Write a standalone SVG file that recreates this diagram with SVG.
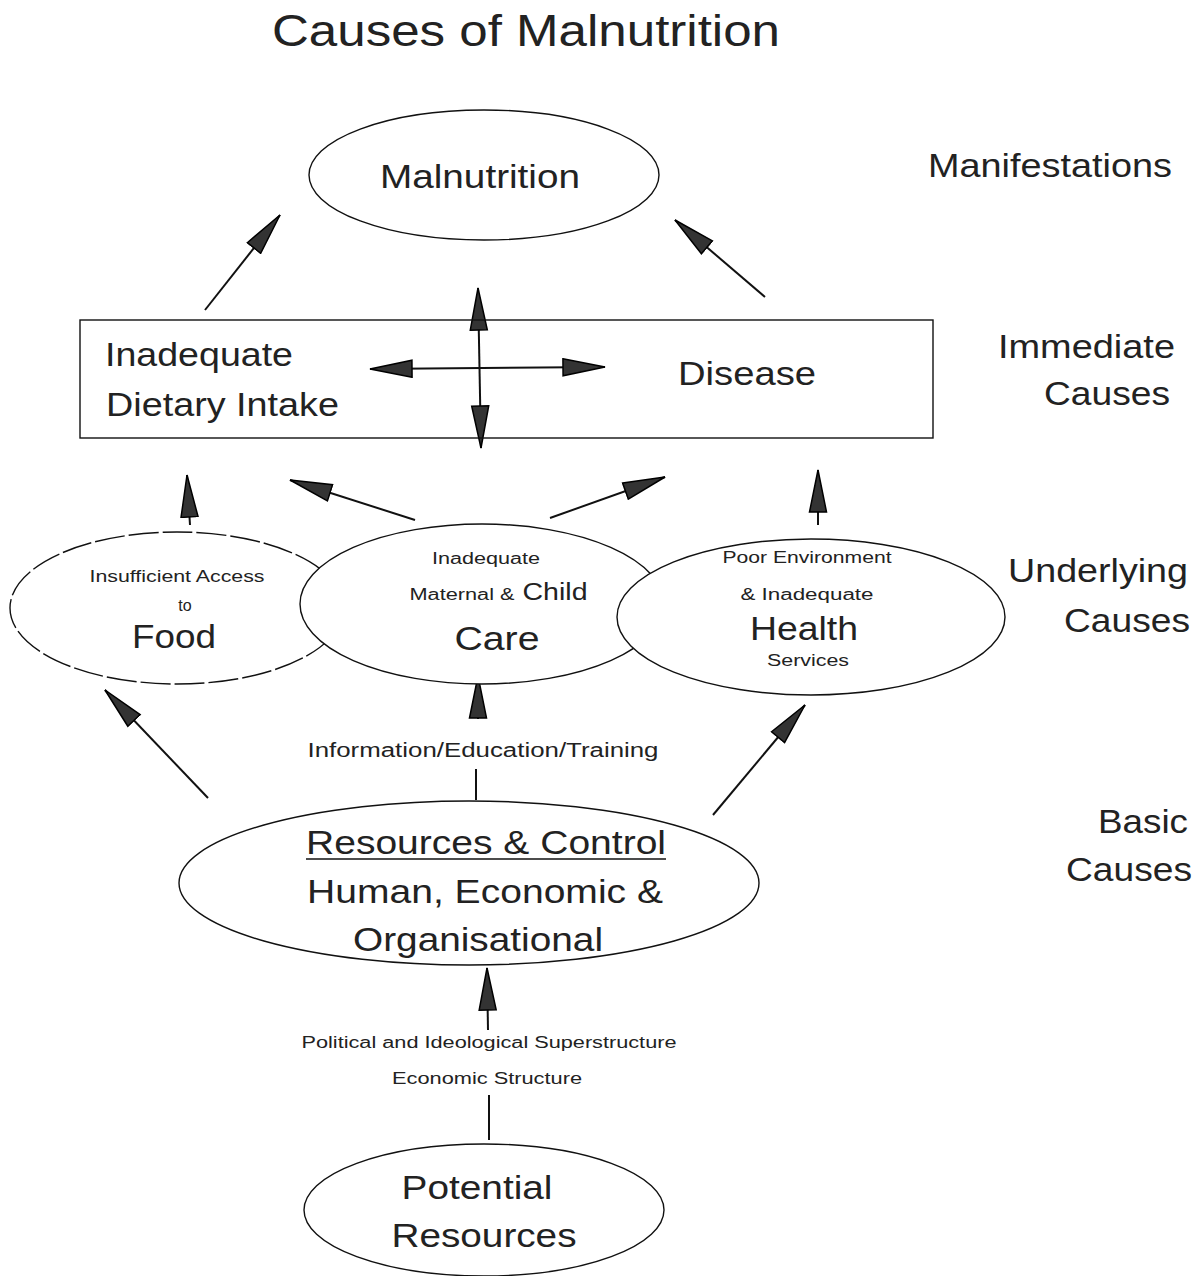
<svg xmlns="http://www.w3.org/2000/svg" width="1204" height="1276" viewBox="0 0 1204 1276">
<style>
text{font-family:"Liberation Sans",Arial,sans-serif;fill:#222;text-anchor:middle}
.big{font-size:34px}
.sm{font-size:16px}
.lbl{text-anchor:end;font-size:34px}
.shape{fill:#fff;stroke:#111;stroke-width:1.4}
.con{stroke:#111;stroke-width:2;fill:none}
</style>
<defs>
<marker id="ah" viewBox="0 0 44 20" refX="43" refY="10" markerWidth="44" markerHeight="20" markerUnits="userSpaceOnUse" orient="auto-start-reverse">
<path d="M1,1.5 L43,10 L1,18.5 Z" fill="#333" stroke="#000" stroke-width="1.5"/>
</marker>
</defs>
<rect width="1204" height="1276" fill="#fff"/>
<text x="526" y="46" font-size="45" textLength="508" lengthAdjust="spacingAndGlyphs">Causes of Malnutrition</text>
<g id="labels">
<text class="lbl" x="1172" y="177" textLength="244" lengthAdjust="spacingAndGlyphs">Manifestations</text>
<text class="lbl" x="1175" y="358" textLength="177" lengthAdjust="spacingAndGlyphs">Immediate</text>
<text class="lbl" x="1170" y="405" textLength="126" lengthAdjust="spacingAndGlyphs">Causes</text>
<text class="lbl" x="1188" y="582" textLength="180" lengthAdjust="spacingAndGlyphs">Underlying</text>
<text class="lbl" x="1190" y="632" textLength="126" lengthAdjust="spacingAndGlyphs">Causes</text>
<text class="lbl" x="1188" y="833" textLength="90" lengthAdjust="spacingAndGlyphs">Basic</text>
<text class="lbl" x="1192" y="881" textLength="126" lengthAdjust="spacingAndGlyphs">Causes</text>
</g>
<g id="connectors">
<line class="con" x1="205" y1="310" x2="280" y2="215" marker-end="url(#ah)"/>
<line class="con" x1="765" y1="297" x2="675" y2="220" marker-end="url(#ah)"/>
<line class="con" x1="481" y1="448" x2="478" y2="288" marker-start="url(#ah)" marker-end="url(#ah)"/>
<line class="con" x1="370" y1="369" x2="605" y2="367" marker-start="url(#ah)" marker-end="url(#ah)"/>
<line class="con" x1="190" y1="525" x2="187" y2="475" marker-end="url(#ah)"/>
<line class="con" x1="415" y1="520" x2="290" y2="480" marker-end="url(#ah)"/>
<line class="con" x1="550" y1="518" x2="665" y2="477" marker-end="url(#ah)"/>
<line class="con" x1="818" y1="525" x2="818" y2="470" marker-end="url(#ah)"/>
<line class="con" x1="478" y1="719" x2="478" y2="676" marker-end="url(#ah)"/>
<line class="con" x1="476" y1="769" x2="476" y2="800"/>
<line class="con" x1="208" y1="798" x2="105" y2="690" marker-end="url(#ah)"/>
<line class="con" x1="713" y1="815" x2="805" y2="705" marker-end="url(#ah)"/>
<line class="con" x1="488" y1="1030" x2="487" y2="968" marker-end="url(#ah)"/>
<line class="con" x1="489" y1="1095" x2="489" y2="1140"/>
</g>
<g id="malnutrition">
<ellipse class="shape" cx="484" cy="175" rx="175" ry="65"/>
<text class="big" x="480" y="188" textLength="200" lengthAdjust="spacingAndGlyphs">Malnutrition</text>
</g>
<g id="immediate">
<rect class="shape" x="80" y="320" width="853" height="118" style="fill:none"/>
<text class="big" x="105" y="366" style="text-anchor:start" textLength="188" lengthAdjust="spacingAndGlyphs">Inadequate</text>
<text class="big" x="106" y="416" style="text-anchor:start" textLength="233" lengthAdjust="spacingAndGlyphs">Dietary Intake</text>
<text class="big" x="747" y="385" textLength="138" lengthAdjust="spacingAndGlyphs">Disease</text>
</g>
<g id="food">
<ellipse class="shape" cx="177" cy="608" rx="167" ry="76" stroke-dasharray="30 4"/>
<text class="sm" x="177" y="582" textLength="175" lengthAdjust="spacingAndGlyphs">Insufficient Access</text>
<text x="185" y="611" font-size="16">to</text>
<text class="big" x="174" y="648" textLength="84" lengthAdjust="spacingAndGlyphs">Food</text>
</g>
<g id="care">
<ellipse class="shape" cx="482" cy="604" rx="182" ry="80"/>
<text class="sm" x="486" y="564" textLength="108" lengthAdjust="spacingAndGlyphs">Inadequate</text>
<text class="sm" x="462" y="600" textLength="105" lengthAdjust="spacingAndGlyphs">Maternal &amp;</text>
<text x="555" y="600" font-size="23" textLength="65" lengthAdjust="spacingAndGlyphs">Child</text>
<text class="big" x="497" y="650" textLength="85" lengthAdjust="spacingAndGlyphs">Care</text>
</g>
<g id="health">
<ellipse class="shape" cx="811" cy="617" rx="194" ry="78"/>
<text class="sm" x="807" y="563" textLength="169" lengthAdjust="spacingAndGlyphs">Poor Environment</text>
<text class="sm" x="807" y="600" textLength="133" lengthAdjust="spacingAndGlyphs">&amp; Inadequate</text>
<text class="big" x="804" y="640" textLength="108" lengthAdjust="spacingAndGlyphs">Health</text>
<text class="sm" x="808" y="666" textLength="82" lengthAdjust="spacingAndGlyphs">Services</text>
</g>
<text x="483" y="757" font-size="20" textLength="351" lengthAdjust="spacingAndGlyphs">Information/Education/Training</text>
<g id="resources">
<ellipse class="shape" cx="469" cy="883" rx="290" ry="82"/>
<text class="big" x="486" y="854" textLength="360" lengthAdjust="spacingAndGlyphs">Resources &amp; Control</text>
<line x1="306" y1="859" x2="666" y2="859" stroke="#111" stroke-width="1.5"/>
<text class="big" x="485" y="903" textLength="356" lengthAdjust="spacingAndGlyphs">Human, Economic &amp;</text>
<text class="big" x="478" y="951" textLength="250" lengthAdjust="spacingAndGlyphs">Organisational</text>
</g>
<text class="sm" x="489" y="1048" textLength="375" lengthAdjust="spacingAndGlyphs">Political and Ideological Superstructure</text>
<text class="sm" x="487" y="1084" textLength="190" lengthAdjust="spacingAndGlyphs">Economic Structure</text>
<g id="potential">
<ellipse class="shape" cx="484" cy="1210" rx="180" ry="66"/>
<text class="big" x="477" y="1199" textLength="151" lengthAdjust="spacingAndGlyphs">Potential</text>
<text class="big" x="484" y="1247" textLength="185" lengthAdjust="spacingAndGlyphs">Resources</text>
</g>
</svg>
